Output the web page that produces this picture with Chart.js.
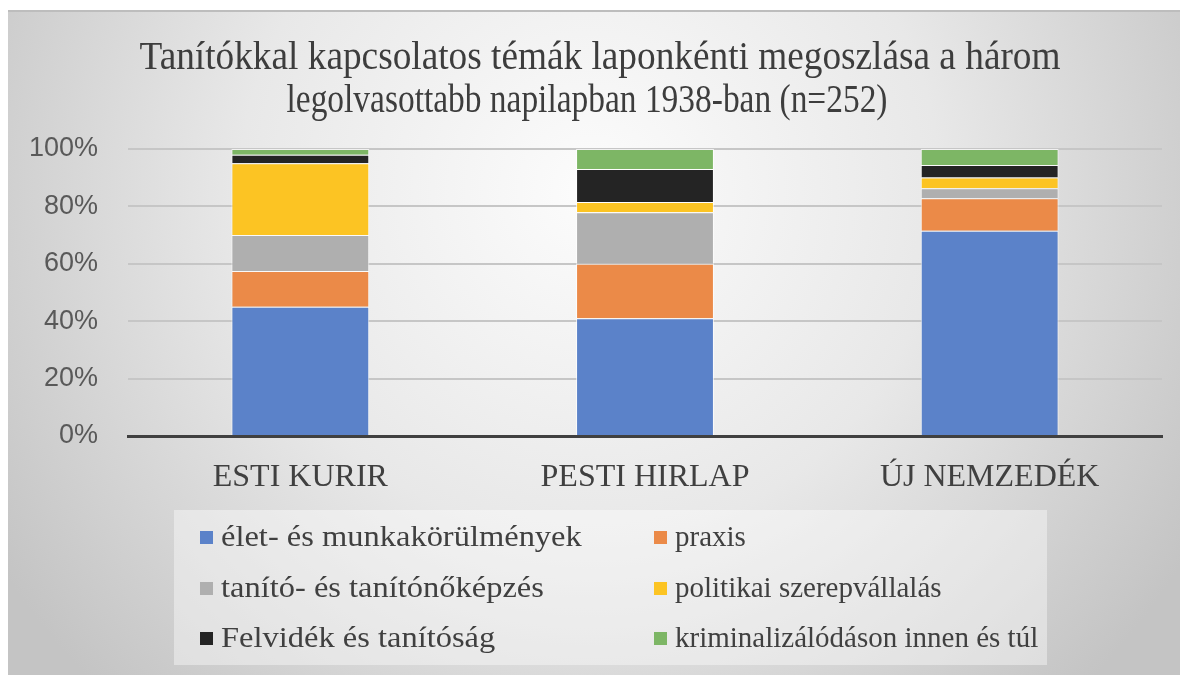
<!DOCTYPE html>
<html>
<head>
<meta charset="utf-8">
<script src="https://cdn.jsdelivr.net/npm/chart.js@4.4.1/dist/chart.umd.min.js"></script>
<style>
  html, body { margin: 0; padding: 0; background: #ffffff; }
  #wrap { position: absolute; left: 0; top: 0; width: 1180px; height: 675px; }
</style>
</head>
<body>
<div id="wrap"><canvas id="c" width="1180" height="675"></canvas></div>
<script>
// ---- data ----
const titleLines = [
  'Tanítókkal kapcsolatos témák laponkénti megoszlása a három',
  'legolvasottabb napilapban 1938-ban (n=252)'
];
const categories = ['ESTI KURIR', 'PESTI HIRLAP', 'ÚJ NEMZEDÉK'];
const seriesNames = [
  'élet- és munkakörülmények',
  'praxis',
  'tanító- és tanítónőképzés',
  'politikai szerepvállalás',
  'Felvidék és tanítóság',
  'kriminalizálódáson innen és túl'
];
const eletMunka  = [45.0, 41.0, 71.5];
const praxis     = [12.5, 19.0, 11.3];
const kepzes     = [12.5, 18.0, 3.5];
const politikai  = [25.0, 3.5, 3.8];
const felvidek   = [3.0, 11.5, 4.3];
const krimin     = [2.0, 7.0, 5.6];
const yTicks     = [0, 20, 40, 60, 80, 100];

const seriesValues = [eletMunka, praxis, kepzes, politikai, felvidek, krimin];
const seriesColors = ['#5b82c9', '#eb8a48', '#afafaf', '#fcc423', '#242424', '#7db665'];

const bgPlugin = {
  id: 'bg',
  beforeDraw(chart) {
    const ctx = chart.ctx;
    ctx.save();
    ctx.fillStyle = '#ffffff';
    ctx.fillRect(0, 0, 1180, 675);
    const g = ctx.createRadialGradient(590, 190, 0, 590, 190, 700);
    g.addColorStop(0, '#fcfcfc');
    g.addColorStop(0.5, '#e8e8e8');
    g.addColorStop(1, '#c4c4c4');
    ctx.fillStyle = g;
    ctx.fillRect(8, 10, 1172, 665);
    ctx.fillStyle = '#bdbdbd';
    ctx.fillRect(8, 10, 1172, 2);
    // legend box
    ctx.fillStyle = 'rgba(255,255,255,0.4)';
    ctx.fillRect(174, 510, 873, 155);
    ctx.restore();
  }
};

const titlePlugin = {
  id: 'ttl',
  afterDraw(chart) {
    const ctx = chart.ctx;
    ctx.save();
    ctx.fillStyle = '#3d3d3d';
    ctx.font = '40px "Liberation Serif", "Times New Roman", serif';
    ctx.textAlign = 'center';
    ctx.textBaseline = 'middle';
    ctx.fillText(titleLines[0], 600, 58, 921);
    ctx.fillText(titleLines[1], 587, 101, 601);
    ctx.restore();
  }
};

const legendPlugin = {
  id: 'lgd',
  afterDraw(chart) {
    const ctx = chart.ctx;
    ctx.save();
    ctx.font = '29px "Liberation Serif", "Times New Roman", serif';
    ctx.textBaseline = 'middle';
    ctx.textAlign = 'left';
    const colX = [200, 654];
    const colStretch = [1.12, 1.0];
    const rowY = [537, 588, 638];
    chart.data.datasets.forEach((ds, i) => {
      const c = i % 2;
      const x = colX[c];
      const y = rowY[Math.floor(i / 2)];
      ctx.fillStyle = ds.backgroundColor;
      ctx.fillRect(x, y - 6, 13, 13);
      ctx.fillStyle = '#404040';
      ctx.save();
      ctx.translate(x + 21, y + 1);
      ctx.scale(colStretch[c], 1);
      ctx.fillText(ds.label, 0, 0);
      ctx.restore();
    });
    ctx.restore();
  }
};

new Chart(document.getElementById('c'), {
  type: 'bar',
  data: {
    labels: categories,
    datasets: seriesNames.map((name, i) => ({
      label: name,
      data: seriesValues[i],
      backgroundColor: seriesColors[i],
      borderColor: 'rgba(255,255,255,0.75)',
      borderWidth: 1,
      categoryPercentage: 0.8,
      barPercentage: 0.5
    }))
  },
  options: {
    responsive: false,
    animation: false,
    layout: { padding: { top: 149, left: 0, right: 18, bottom: 0 } },
    plugins: {
      legend: { display: false },
      title: { display: false },
      tooltip: { enabled: false }
    },
    scales: {
      x: {
        stacked: true,
        grid: { display: false, drawTicks: false },
        border: { display: true, color: '#404040', width: 3 },
        ticks: {
          color: '#404040',
          padding: 22,
          font: { family: '"Liberation Serif", "Times New Roman", serif', size: 32 }
        },
        afterFit(scale) { scale.height = 239; }
      },
      y: {
        stacked: true,
        min: 0,
        max: 100,
        afterBuildTicks(scale) { scale.ticks = yTicks.map(v => ({ value: v })); },
        grid: { color: '#c6c6c6', lineWidth: 2, drawTicks: false },
        border: { display: false },
        ticks: {
          color: '#595959',
          padding: 30,
          font: { family: '"Liberation Sans", Arial, sans-serif', size: 27 },
          callback: v => v + '%'
        },
        afterFit(scale) { scale.width = 128; }
      }
    }
  },
  plugins: [bgPlugin, titlePlugin, legendPlugin]
});
</script>
</body>
</html>
